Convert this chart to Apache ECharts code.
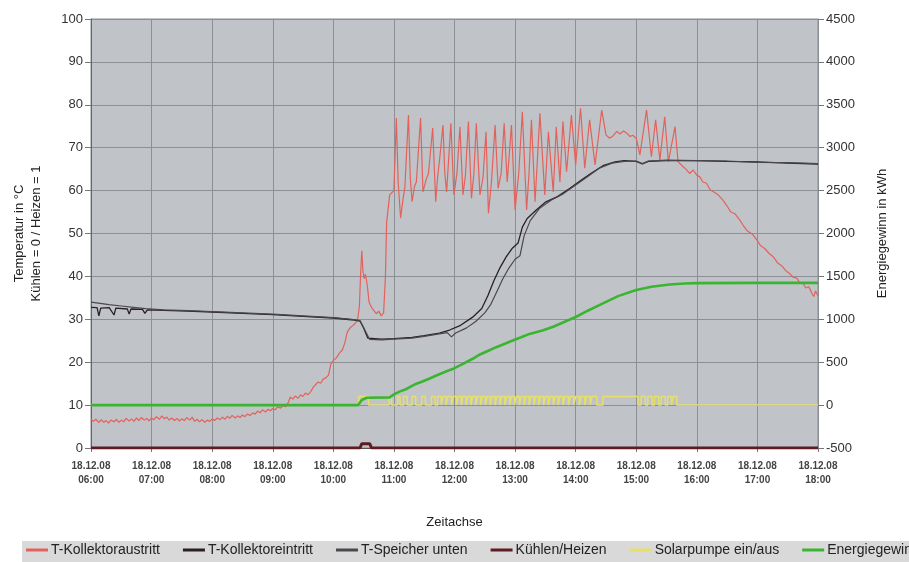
<!DOCTYPE html>
<html>
<head>
<meta charset="utf-8">
<script src="https://cdn.jsdelivr.net/npm/echarts@6/dist/echarts.min.js"></script>
<style>
html,body{margin:0;padding:0;background:#fff;}
#chart{width:909px;height:562px;}
</style>
</head>
<body>
<div id="chart"></div>
<script>
// x values are clock hours on 18.12.08
const hourTicks = [6,7,8,9,10,11,12,13,14,15,16,17,18];
const dateLabel = '18.12.08';

// T-Kollektoraustritt (°C)
const kollektoraustritt = [
[6.00,6.8],[6.04,6.2],[6.08,6.7],[6.13,5.9],[6.17,6.6],[6.21,6.0],[6.25,6.4],[6.29,5.8],[6.33,6.5],[6.38,6.1],[6.42,6.7],[6.46,6.0],
[6.50,6.5],[6.54,6.1],[6.58,6.9],[6.63,6.3],[6.67,6.8],[6.71,6.2],[6.75,7.0],[6.79,6.4],[6.83,7.1],[6.88,6.5],[6.92,6.9],[6.96,6.3],
[7.00,7.0],[7.04,6.6],[7.08,7.3],[7.13,6.7],[7.17,7.5],[7.21,6.8],[7.25,7.2],[7.29,6.5],[7.33,7.0],[7.38,6.4],[7.42,6.9],[7.46,6.3],
[7.50,6.8],[7.54,6.4],[7.58,7.1],[7.63,6.5],[7.67,7.2],[7.71,6.2],[7.75,6.7],[7.79,6.1],[7.83,6.6],[7.88,6.0],[7.92,6.5],[7.96,6.2],
[8.00,6.8],[8.04,6.4],[8.08,7.0],[8.13,6.6],[8.17,7.2],[8.21,6.7],[8.25,7.4],[8.29,6.9],[8.33,7.6],[8.38,7.0],[8.42,7.5],[8.46,7.1],
[8.50,7.7],[8.54,7.3],[8.58,7.9],[8.63,7.6],[8.67,8.2],[8.71,7.9],[8.75,8.6],[8.79,8.2],[8.83,8.9],[8.88,8.4],[8.92,9.0],[8.96,8.7],
[9.00,9.2],[9.04,8.9],[9.08,9.6],[9.13,9.3],[9.17,9.9],[9.21,9.6],[9.25,10.4],[9.29,11.9],[9.33,11.4],[9.37,12.1],[9.42,11.6],[9.46,12.4],
[9.50,12.0],[9.54,12.8],[9.58,12.4],[9.63,13.2],[9.67,14.2],[9.71,14.8],[9.75,15.4],[9.79,15.1],[9.83,16.0],[9.88,16.4],[9.92,17.0],[9.96,19.6],
[10.00,20.4],[10.05,21.0],[10.10,22.1],[10.15,22.9],[10.19,24.5],[10.23,27.0],[10.27,27.9],[10.31,28.4],[10.35,28.9],[10.40,29.8],[10.43,33.0],[10.45,40.5],
[10.47,46.0],[10.49,41.0],[10.51,39.5],[10.53,40.5],[10.56,38.0],[10.59,34.0],[10.63,32.8],[10.67,32.0],[10.71,31.3],[10.75,31.9],[10.79,30.8],[10.83,31.5],
[10.86,40.0],[10.88,52.7],[10.93,59.0],[11.00,60.0],[11.04,76.9],[11.07,62.0],[11.11,53.6],[11.15,58.0],[11.18,60.6],[11.24,77.6],[11.27,63.0],[11.30,57.4],
[11.34,61.0],[11.37,62.0],[11.44,76.9],[11.48,59.7],[11.53,62.5],[11.57,64.0],[11.64,74.6],[11.69,57.4],[11.72,63.0],[11.75,66.7],[11.81,75.3],[11.84,64.0],
[11.87,59.7],[11.94,75.7],[11.99,59.0],[12.04,64.0],[12.09,74.9],[12.14,59.0],[12.18,63.5],[12.23,76.1],[12.28,58.2],[12.32,64.0],[12.36,75.7],[12.42,59.0],
[12.47,63.0],[12.52,73.7],[12.56,54.7],[12.61,62.0],[12.67,75.3],[12.72,60.5],[12.77,64.0],[12.82,75.7],[12.87,62.0],[12.94,75.3],[13.00,55.5],[13.06,64.0],
[13.12,78.4],[13.19,55.5],[13.23,64.0],[13.27,76.5],[13.33,57.4],[13.41,78.0],[13.49,59.0],[13.55,73.7],[13.63,59.7],[13.68,74.9],[13.74,62.0],[13.79,76.1],
[13.85,64.4],[13.93,77.6],[14.00,66.0],[14.08,79.2],[14.15,65.2],[14.23,76.5],[14.32,66.0],[14.43,78.8],[14.50,73.0],[14.56,72.2],[14.62,72.8],[14.68,73.8],
[14.73,73.2],[14.79,73.9],[14.84,73.4],[14.90,72.6],[14.94,72.9],[15.00,72.2],[15.06,68.3],[15.17,78.8],[15.25,67.9],[15.32,76.5],[15.39,67.1],[15.47,77.2],
[15.53,66.7],[15.64,74.9],[15.69,66.7],[15.73,66.2],[15.77,65.6],[15.82,65.0],[15.88,64.0],[15.94,64.8],[16.00,63.6],[16.05,63.2],[16.10,62.0],[16.16,61.7],
[16.22,60.2],[16.30,59.5],[16.36,58.9],[16.43,57.8],[16.50,56.4],[16.56,55.0],[16.63,54.6],[16.71,53.1],[16.77,51.8],[16.84,50.5],[16.92,49.8],[16.99,48.5],
[17.05,47.2],[17.12,46.5],[17.19,45.4],[17.26,44.6],[17.33,43.2],[17.40,42.5],[17.47,41.3],[17.53,40.7],[17.59,39.8],[17.65,39.6],[17.70,38.5],[17.75,38.4],
[17.80,37.3],[17.85,37.6],[17.90,36.0],[17.93,35.3],[17.96,36.6],[18.00,35.5]
];

// T-Kollektoreintritt (°C)
const kollektoreintritt = [
[6.00,32.8],[6.10,32.7],[6.13,30.8],[6.16,32.6],[6.30,32.7],[6.38,31.0],[6.41,32.6],[6.44,32.5],[6.60,32.4],[6.63,31.2],[6.66,32.4],
[6.85,32.3],[6.89,31.4],[6.93,32.2],[7.20,32.1],[7.60,31.9],[8.00,31.7],[8.50,31.4],[9.00,31.1],[9.50,30.7],[10.00,30.3],[10.30,29.9],
[10.44,29.6],[10.50,28.0],[10.57,25.6],[10.80,25.4],[11.00,25.5],[11.30,25.8],[11.50,26.2],[11.75,26.8],[11.92,27.5],[12.10,28.6],
[12.30,30.5],[12.45,32.5],[12.55,35.5],[12.65,39.0],[12.75,42.0],[12.85,44.5],[12.95,46.5],[13.05,47.8],[13.12,51.5],[13.20,53.5],
[13.35,55.5],[13.50,57.3],[13.70,58.6],[13.90,60.5],[14.10,62.5],[14.25,64.0],[14.45,65.8],[14.65,66.7],[14.80,67.0],[15.00,66.8],
[15.10,66.2],[15.20,66.8],[15.50,67.0],[16.00,67.0],[16.50,66.8],[17.00,66.7],[17.50,66.4],[18.00,66.2]
];

// T-Speicher unten (°C)
const speicherUnten = [
[6.00,34.0],[6.15,33.7],[6.30,33.4],[6.50,33.1],[6.70,32.8],[6.90,32.5],[7.20,32.2],[7.60,32.0],[8.00,31.8],[8.50,31.5],[9.00,31.2],
[9.50,30.8],[10.00,30.4],[10.30,30.0],[10.44,29.7],[10.52,27.5],[10.60,25.3],[10.80,25.2],[11.00,25.4],[11.30,25.6],[11.50,26.0],
[11.75,26.6],[11.88,26.9],[11.95,25.9],[12.02,26.8],[12.20,28.0],[12.35,29.5],[12.50,31.5],[12.60,33.5],[12.70,36.5],[12.80,39.5],
[12.90,42.0],[13.00,44.0],[13.08,44.8],[13.15,49.5],[13.25,53.0],[13.40,55.8],[13.60,57.8],[13.80,59.3],[14.00,61.3],[14.20,63.3],
[14.40,65.3],[14.60,66.4],[14.80,66.8],[15.00,66.9],[15.10,66.3],[15.20,66.9],[15.50,67.1],[16.00,67.0],[16.50,66.9],[17.00,66.6],
[17.50,66.5],[18.00,66.3]
];

// Kühlen/Heizen (0/1)
const kuehlenHeizen = [[6.00,0],[10.44,0],[10.47,1],[10.60,1],[10.63,0],[18.00,0]];

// Solarpumpe ein/aus: on-intervals [start, end] in hours, level on the kWh axis
const pumpeOnLevel = 100;
const pumpeOn = [
[10.42,10.58],[10.92,10.96],[11.06,11.10],[11.16,11.22],[11.30,11.36],[11.46,11.52],[11.62,11.68],[11.72,11.78],[11.81,11.86],
[11.89,11.95],[11.98,12.03],[12.06,12.11],[12.14,12.19],[12.22,12.27],[12.30,12.35],[12.38,12.43],[12.46,12.51],[12.54,12.59],
[12.62,12.67],[12.70,12.75],[12.78,12.83],[12.86,12.91],[12.94,12.99],[13.02,13.07],[13.10,13.15],[13.18,13.23],[13.26,13.31],
[13.34,13.39],[13.42,13.47],[13.50,13.55],[13.58,13.63],[13.66,13.71],[13.74,13.79],[13.82,13.88],[13.91,13.97],[14.00,14.06],
[14.09,14.15],[14.18,14.24],[14.27,14.35],[14.45,15.03],[15.08,15.15],[15.19,15.26],[15.30,15.37],[15.41,15.48],[15.52,15.58],
[15.61,15.67]
];

// Energiegewinn (kWh)
const energiegewinn = [
[6.00,0],[10.41,0],[10.47,60],[10.55,85],[10.93,90],[11.00,125],[11.10,160],[11.20,185],[11.30,225],[11.37,250],[11.45,270],
[11.59,310],[11.70,345],[11.87,395],[12.00,430],[12.14,480],[12.30,540],[12.42,590],[12.55,630],[12.69,675],[12.85,720],[12.97,755],
[13.10,790],[13.24,830],[13.45,870],[13.63,914],[13.80,965],[14.01,1030],[14.20,1100],[14.45,1186],[14.70,1270],[15.00,1341],
[15.25,1380],[15.55,1405],[15.80,1418],[16.00,1422],[17.00,1425],[18.00,1425]
];

// build pump step line from the on-intervals
const pumpeLine = [[6.00,0]];
pumpeOn.forEach(function(iv){
  pumpeLine.push([iv[0],0],[iv[0],pumpeOnLevel],[iv[1],pumpeOnLevel],[iv[1],0]);
});
pumpeLine.push([18.00,0]);

const chart = echarts.init(document.getElementById('chart'), null, {renderer:'canvas'});
const font = 'Liberation Sans, Arial, sans-serif';
function pad(n){return (n<10?'0':'')+n;}

chart.setOption({
  animation:false,
  backgroundColor:'#ffffff',
  textStyle:{fontFamily:font},
  graphic:[{type:'rect',left:22,top:541,shape:{width:900,height:21},style:{fill:'#d9d9d9'},silent:true,z:-1}],
  grid:{left:91,right:91,top:19,bottom:114,show:true,backgroundColor:'#c0c4c8',borderColor:'#8a8d90',borderWidth:1},
  legend:{
    left:22,top:543,width:1400,
    padding:[0,4,0,4],
    itemWidth:22,itemHeight:3,itemGap:23,
    icon:'rect',
    textStyle:{fontSize:14,color:'#222',fontFamily:font,padding:[0,0,0,-2]},
    data:['T-Kollektoraustritt','T-Kollektoreintritt','T-Speicher unten','Kühlen/Heizen','Solarpumpe ein/aus','Energiegewinn']
  },
  xAxis:{
    type:'value',min:6,max:18,interval:1,
    name:'Zeitachse',nameLocation:'middle',nameGap:68,
    nameTextStyle:{fontSize:13,color:'#222'},
    axisLine:{show:true,lineStyle:{color:'#555'}},
    axisTick:{show:true,length:4,lineStyle:{color:'#777'}},
    axisLabel:{fontSize:10,fontWeight:'bold',color:'#444',lineHeight:14,margin:11,
      formatter:function(v){return dateLabel+'\n'+pad(v)+':00';}},
    splitLine:{show:true,lineStyle:{color:'#8c9094',width:1}}
  },
  yAxis:[{
    type:'value',min:0,max:100,interval:10,position:'left',
    name:'Temperatur in °C\nKühlen = 0 / Heizen = 1',nameLocation:'middle',nameGap:46,nameRotate:90,
    nameTextStyle:{fontSize:13,color:'#222',lineHeight:17},
    axisLine:{show:true,lineStyle:{color:'#666'}},
    axisTick:{show:true,length:6,lineStyle:{color:'#777'}},
    axisLabel:{fontSize:13,color:'#333',margin:8},
    splitLine:{show:true,lineStyle:{color:'#8c9094',width:1}}
  },{
    type:'value',min:-500,max:4500,interval:500,position:'right',
    name:'Energiegewinn in kWh',nameLocation:'middle',nameGap:58,nameRotate:90,
    nameTextStyle:{fontSize:13,color:'#222'},
    axisLine:{show:true,lineStyle:{color:'#8a8d90'}},
    axisTick:{show:true,length:6,lineStyle:{color:'#777'}},
    axisLabel:{fontSize:13,color:'#333',margin:8,formatter:function(v){return String(v);}},
    splitLine:{show:false}
  }],
  series:[
    {name:'T-Kollektoraustritt',type:'line',yAxisIndex:0,data:kollektoraustritt,showSymbol:false,
      lineStyle:{color:'#e2625b',width:1.2},itemStyle:{color:'#e2625b'},z:3},
    {name:'T-Kollektoreintritt',type:'line',yAxisIndex:0,data:kollektoreintritt,showSymbol:false,
      lineStyle:{color:'#2a1f24',width:1.3},itemStyle:{color:'#2a1f24'},z:4},
    {name:'T-Speicher unten',type:'line',yAxisIndex:0,data:speicherUnten,showSymbol:false,
      lineStyle:{color:'#4a484e',width:1.2},itemStyle:{color:'#4a484e'},z:4},
    {name:'Kühlen/Heizen',type:'line',yAxisIndex:0,data:kuehlenHeizen,showSymbol:false,
      lineStyle:{color:'#5e1c22',width:3},itemStyle:{color:'#5e1c22'},z:5},
    {name:'Solarpumpe ein/aus',type:'line',yAxisIndex:1,data:pumpeLine,showSymbol:false,
      lineStyle:{color:'#e6df6a',width:1.5},itemStyle:{color:'#e6df6a'},z:2},
    {name:'Energiegewinn',type:'line',yAxisIndex:1,data:energiegewinn,showSymbol:false,
      lineStyle:{color:'#3bb531',width:2.6},itemStyle:{color:'#3bb531'},z:3}
  ]
});
</script>
</body>
</html>
